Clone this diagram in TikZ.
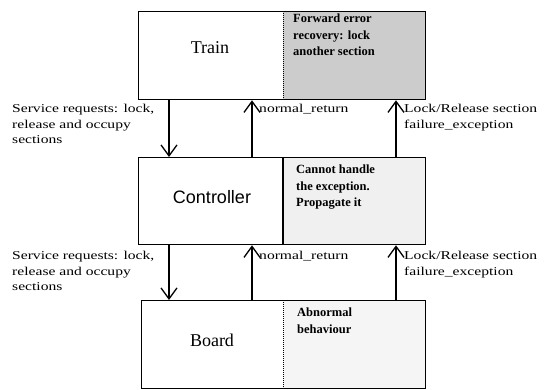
\documentclass[tikz,border=0pt]{standalone}
\usepackage{fontspec}
\setmainfont{Liberation Serif}
\newfontfamily\lblfont[FakeStretch=1.3]{Liberation Serif}
\newfontfamily\ctrlfont{Liberation Sans}
\usetikzlibrary{arrows.meta}
\begin{document}
\begin{tikzpicture}[x=1pt, y=-1pt,
    unit/.style={draw, line width=1.3pt, rectangle, minimum width=287pt, anchor=north west, inner sep=0pt},
    note/.style={anchor=north west, inner sep=0pt, align=left, font=\bfseries\fontsize{12.5}{16.5}\selectfont},
    lbl/.style={anchor=north west, inner sep=0pt, align=left, font=\lblfont\fontsize{12}{15.5}\selectfont},
    title/.style={font=\fontsize{18}{20}\selectfont},
    flow/.style={line width=1.3pt, -{Straight Barb[length=11pt, width=16pt, line width=1.3pt]}}]
            \useasboundingbox (0,0) rectangle (547,389);

            % shaded halves
            \fill[black!20] (283,11) rectangle (425,99);
            \fill[black!6] (283,157) rectangle (425,244);
            \fill[black!4] (283,300) rectangle (425,388);

            \coordinate (xreq) at (169,0);
            \coordinate (xret) at (252,0);
            \coordinate (xexc) at (396,0);
            \coordinate (xdiv) at (283,0);

            \node[unit, minimum height=88pt] (train) at (138,11) {};
            \node[unit, minimum height=87pt] (ctrl) at (138,157) {};
            \node[unit, minimum width=284pt, minimum height=88pt] (board) at (141,300) {};

            \draw[densely dotted, line width=1pt] (train.north -| xdiv) -- (train.south -| xdiv);
            \draw[line width=1.3pt] (ctrl.north -| xdiv) -- (ctrl.south -| xdiv);
            \draw[densely dotted, line width=1pt] (board.north -| xdiv) -- (board.south -| xdiv);

            \node[title] (traint) at (210,48) {Train};
            \node[title, font=\ctrlfont\fontsize{18}{20}\selectfont] (ctrlt) at (212,197) {Controller};
            \node[title] (boardt) at (212,340) {Board};

            \node[note] (trainn) at (293,14) {Forward error\\recovery: lock\\another section};
            \node[note] (ctrln) at (296,165) {Cannot handle\\the exception.\\Propagate it};
            \node[note] (boardn) at (297,308) {Abnormal\\behaviour};

            \draw[flow] (train.south -| xreq) -- (ctrl.north -| xreq);
            \draw[flow] (ctrl.north -| xret) -- (train.south -| xret);
            \draw[flow] (ctrl.north -| xexc) -- (train.south -| xexc);
            \draw[flow] (ctrl.south -| xreq) -- (board.north -| xreq);
            \draw[flow] (board.north -| xret) -- (ctrl.south -| xret);
            \draw[flow] (board.north -| xexc) -- (ctrl.south -| xexc);

            \node[lbl] (req1) at (12,104) {Service requests: lock,\\release and occupy\\sections};
            \node[lbl] (ret1) at (259,104) {normal\_return};
            \node[lbl] (exc1) at (404,104) {Lock/Release section\\failure\_exception};
            \node[lbl] (req2) at (12,251) {Service requests: lock,\\release and occupy\\sections};
            \node[lbl] (ret2) at (259,251) {normal\_return};
            \node[lbl] (exc2) at (404,251) {Lock/Release section\\failure\_exception};
        \end{tikzpicture}
\end{document}
